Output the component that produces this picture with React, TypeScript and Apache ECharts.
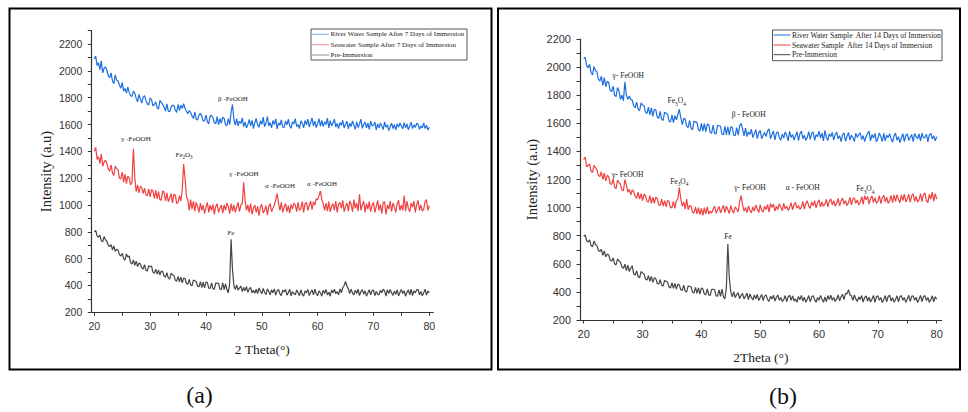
import React, { useEffect, useRef } from 'react';
import * as echarts from 'echarts';

// ---- sampling grid (2θ, degrees) ----
const ANGLE_START = 20;
const ANGLE_STEP = 0.25;

// ---- tick values ----
const X_LABELS = [20, 30, 40, 50, 60, 70, 80];
const X_TICKS = [20, 25, 30, 35, 40, 45, 50, 55, 60, 65, 70, 75, 80];
const Y_LABELS = [200, 400, 600, 800, 1000, 1200, 1400, 1600, 1800, 2000, 2200];
const Y_TICKS_A = [200, 300, 400, 500, 600, 700, 800, 900, 1000, 1100, 1200, 1300, 1400, 1500, 1600, 1700, 1800, 1900, 2000, 2100, 2200, 2300];
const Y_TICKS_B = [200, 300, 400, 500, 600, 700, 800, 900, 1000, 1100, 1200, 1300, 1400, 1500, 1600, 1700, 1800, 1900, 2000, 2100, 2200];

// ---- series names ----
const NAMES_A = ['River Water Sample After 7 Days of Immersion', 'Seawater Sample After 7 Days of Immersion', 'Pre-Immersion'];
const NAMES_B = ['River Water Sample  After 14 Days of Immersion', 'Seawater Sample  After 14 Days of Immersion', 'Pre-Immersion'];

// ---- (a) 7 days : one row = 4 degrees, 4 samples per degree ----
const RIVER_7 = [
  2090, 2110, 2040, 2060, 2010, 2075, 1985, 2020, 2030, 2005, 1965, 1950, 1985, 1925, 1905, 1970,
  1930, 1925, 1895, 1870, 1915, 1850, 1870, 1835, 1880, 1840, 1815, 1810, 1850, 1835, 1795, 1770,
  1825, 1790, 1760, 1805, 1815, 1780, 1755, 1745, 1800, 1785, 1740, 1750, 1770, 1725, 1715, 1780,
  1765, 1750, 1730, 1700, 1755, 1700, 1695, 1730, 1745, 1740, 1710, 1690, 1750, 1705, 1745, 1720,
  1755, 1720, 1700, 1680, 1705, 1690, 1665, 1645, 1695, 1640, 1635, 1670, 1685, 1665, 1625, 1630,
  1670, 1620, 1605, 1665, 1668, 1650, 1615, 1605, 1660, 1600, 1645, 1610, 1655, 1648, 1598, 1592,
  1645, 1600, 1690, 1750, 1640, 1595, 1645, 1590, 1625, 1608, 1650, 1585, 1620, 1575, 1600, 1638,
  1590, 1632, 1570, 1615, 1645, 1598, 1580, 1628, 1602, 1655, 1585, 1612, 1660, 1590, 1615, 1575,
  1630, 1600, 1642, 1568, 1612, 1595, 1635, 1580, 1578, 1625, 1598, 1640, 1590, 1572, 1620, 1605,
  1645, 1585, 1600, 1570, 1628, 1612, 1575, 1630, 1598, 1640, 1582, 1615, 1650, 1590, 1625, 1578,
  1605, 1645, 1588, 1632, 1585, 1620, 1600, 1648, 1575, 1630, 1590, 1612, 1640, 1582, 1608, 1570,
  1615, 1595, 1632, 1575, 1600, 1625, 1568, 1610, 1585, 1628, 1592, 1565, 1620, 1578, 1605, 1640,
  1572, 1600, 1618, 1575, 1610, 1565, 1625, 1590, 1595, 1618, 1560, 1605, 1575, 1612, 1590, 1562,
  1620, 1580, 1598, 1555, 1585, 1610, 1570, 1600, 1560, 1605, 1582, 1612, 1590, 1568, 1615, 1575,
  1605, 1560, 1592, 1618, 1570, 1598, 1578, 1610, 1600, 1565, 1590, 1575, 1612, 1570, 1595, 1560,
  1580,
];
const SEA_7 = [
  1400, 1430, 1340, 1360, 1310, 1380, 1290, 1320, 1335, 1310, 1270, 1250, 1300, 1240, 1220, 1290,
  1270, 1265, 1200, 1195, 1245, 1170, 1230, 1160, 1215, 1200, 1150, 1170, 1420, 1200, 1100, 1150,
  1090, 1140, 1130, 1085, 1125, 1075, 1070, 1120, 1060, 1115, 1105, 1050, 1110, 1045, 1100, 1040,
  1035, 1105, 1095, 1030, 1090, 1025, 1050, 1085, 1015, 1080, 1075, 1010, 1020, 1070, 1030, 1110,
  1305, 1200, 1060, 1040, 960, 1040, 970, 1030, 955, 1020, 990, 945, 1015, 960, 1000, 935,
  985, 1020, 945, 1000, 960, 1005, 930, 990, 1010, 945, 975, 1000, 940, 1002, 960, 1015,
  990, 935, 1010, 955, 1000, 945, 985, 1020, 950, 1000, 1010, 1170, 1040, 960, 1000, 945,
  1010, 930, 975, 1000, 945, 990, 920, 985, 1005, 940, 960, 995, 925, 990, 1010, 950,
  975, 1000, 1040, 1085, 1010, 960, 1020, 945, 985, 1010, 950, 995, 940, 1005, 970, 1015,
  1000, 950, 1020, 960, 975, 1025, 945, 1010, 1020, 960, 995, 1030, 965, 1025, 1000, 1045,
  1040, 1070, 1105, 1040, 1010, 960, 1015, 955, 1025, 950, 990, 1010, 960, 1030, 945, 1005,
  1020, 975, 1035, 950, 990, 1015, 955, 1030, 1005, 950, 1040, 975, 1015, 955, 1080, 960,
  1000, 1030, 945, 1010, 970, 1025, 950, 1000, 1020, 945, 990, 1035, 960, 1005, 935, 1020,
  1025, 930, 1000, 970, 1030, 950, 1015, 985, 945, 1010, 1035, 960, 1000, 960, 1070, 955,
  1030, 975, 950, 1015, 985, 1030, 945, 1005, 1035, 960, 1000, 955, 970, 1025, 1040, 960,
  995,
];
const PRE_7 = [
  800, 810, 770, 760, 775, 735, 725, 765, 740, 730, 700, 690, 705, 665, 695, 655,
  670, 662, 630, 620, 640, 600, 590, 635, 612, 620, 570, 560, 590, 550, 582, 540,
  568, 560, 530, 522, 555, 512, 508, 548, 540, 545, 500, 490, 522, 485, 515, 478,
  508, 502, 470, 462, 495, 455, 448, 490, 480, 475, 440, 432, 468, 428, 462, 420,
  455, 452, 415, 410, 445, 405, 398, 440, 435, 430, 395, 390, 428, 385, 425, 382,
  425, 422, 380, 378, 420, 375, 372, 418, 418, 415, 372, 370, 420, 370, 412, 368,
  345, 420, 745, 520, 400, 370, 405, 365, 380, 395, 355, 385, 360, 392, 348, 375,
  385, 345, 365, 342, 372, 340, 382, 355, 338, 378, 350, 332, 375, 355, 330, 368,
  345, 375, 328, 360, 370, 338, 325, 365, 352, 370, 328, 345, 372, 322, 355, 340,
  330, 366, 345, 324, 368, 335, 320, 360, 345, 370, 325, 350, 366, 330, 372, 340,
  325, 360, 345, 320, 365, 340, 370, 330, 350, 320, 366, 345, 372, 338, 355, 330,
  375, 345, 385, 400, 430, 395, 375, 340, 372, 345, 330, 365, 340, 372, 325, 355,
  370, 335, 360, 320, 345, 368, 330, 362, 366, 325, 355, 335, 330, 365, 345, 372,
  360, 320, 368, 340, 370, 345, 326, 358, 335, 368, 322, 350, 370, 340, 360, 320,
  350, 368, 330, 372, 325, 360, 345, 368, 370, 330, 355, 322, 345, 372, 328, 360,
  345,
];

// ---- (b) 14 days ----
const RIVER_14 = [
  2060, 2070, 2010, 1995, 2020, 1960, 1945, 2005, 1975, 1965, 1915, 1900, 1935, 1870, 1925, 1860,
  1900, 1890, 1835, 1825, 1865, 1800, 1790, 1855, 1830, 1770, 1800, 1760, 1895, 1800, 1770, 1795,
  1770, 1765, 1725, 1710, 1750, 1700, 1690, 1745, 1730, 1725, 1680, 1670, 1715, 1660, 1710, 1650,
  1700, 1695, 1645, 1635, 1685, 1630, 1620, 1680, 1670, 1665, 1615, 1610, 1660, 1605, 1655, 1625,
  1660, 1700, 1640, 1590, 1635, 1630, 1580, 1570, 1620, 1565, 1555, 1615, 1610, 1605, 1555, 1545,
  1600, 1545, 1598, 1540, 1595, 1590, 1535, 1530, 1588, 1528, 1525, 1585, 1582, 1580, 1522, 1520,
  1578, 1518, 1575, 1515, 1575, 1572, 1515, 1512, 1570, 1515, 1580, 1600, 1560, 1510, 1565, 1505,
  1540, 1520, 1558, 1498, 1525, 1555, 1492, 1530, 1550, 1490, 1515, 1535, 1505, 1548, 1560, 1490,
  1520, 1545, 1482, 1530, 1540, 1500, 1478, 1525, 1495, 1538, 1515, 1475, 1542, 1500, 1520, 1480,
  1510, 1540, 1476, 1525, 1545, 1490, 1515, 1478, 1500, 1540, 1485, 1530, 1538, 1478, 1520, 1505,
  1545, 1495, 1530, 1475, 1550, 1500, 1478, 1525, 1505, 1536, 1480, 1520, 1538, 1490, 1512, 1470,
  1520, 1532, 1472, 1505, 1535, 1480, 1515, 1498, 1470, 1530, 1500, 1520, 1532, 1485, 1512, 1470,
  1505, 1528, 1545, 1475, 1520, 1495, 1528, 1468, 1490, 1532, 1505, 1470, 1528, 1475, 1515, 1498,
  1525, 1490, 1465, 1510, 1530, 1480, 1505, 1462, 1495, 1526, 1470, 1515, 1524, 1478, 1500, 1520,
  1470, 1528, 1505, 1490, 1525, 1475, 1530, 1495, 1500, 1522, 1468, 1515, 1528, 1490, 1512, 1475,
  1505,
];
const SEA_14 = [
  1340, 1360, 1290, 1300, 1310, 1260, 1250, 1300, 1285, 1270, 1230, 1220, 1255, 1200, 1245, 1190,
  1230, 1220, 1170, 1165, 1205, 1145, 1135, 1195, 1180, 1165, 1125, 1120, 1200, 1160, 1110, 1130,
  1090, 1125, 1115, 1080, 1065, 1110, 1060, 1100, 1050, 1095, 1085, 1045, 1040, 1085, 1030, 1075,
  1030, 1075, 1065, 1020, 1015, 1060, 1010, 1050, 1005, 1050, 1045, 1000, 1000, 1045, 995, 1050,
  1060, 1145, 1060, 1010, 1040, 990, 1060, 985, 1015, 1010, 965, 960, 1005, 955, 1000, 950,
  995, 945, 1000, 955, 1005, 955, 975, 960, 990, 1010, 960, 985, 1008, 962, 990, 1015,
  965, 1010, 985, 958, 1015, 975, 960, 1005, 990, 970, 1040, 1085, 1020, 975, 1000, 965,
  1012, 980, 962, 1005, 975, 1018, 990, 965, 1020, 980, 968, 1010, 985, 1022, 968, 1030,
  1000, 1025, 975, 1010, 985, 1028, 1000, 978, 1030, 992, 1010, 980, 1000, 1035, 985, 1020,
  1038, 995, 1015, 988, 1002, 1045, 990, 1030, 1048, 1010, 995, 1040, 1012, 1050, 998, 1035,
  1055, 1005, 1040, 1010, 1025, 1058, 1005, 1045, 1062, 1020, 1050, 1010, 1030, 1065, 1012, 1048,
  1068, 1025, 1050, 1015, 1035, 1072, 1020, 1060, 1070, 1030, 1055, 1018, 1040, 1078, 1022, 1085,
  1055, 1080, 1025, 1065, 1082, 1035, 1070, 1030, 1045, 1085, 1028, 1070, 1088, 1040, 1075, 1030,
  1050, 1086, 1035, 1090, 1045, 1092, 1060, 1035, 1090, 1050, 1095, 1040, 1060, 1095, 1038, 1085,
  1098, 1045, 1080, 1040, 1055, 1100, 1042, 1090, 1105, 1050, 1035, 1095, 1060, 1110, 1045, 1100,
  1060,
];
const PRE_14 = [
  795, 805, 765, 755, 770, 730, 722, 762, 738, 728, 695, 688, 702, 660, 692, 650,
  670, 662, 628, 618, 642, 600, 592, 635, 620, 612, 575, 568, 598, 552, 590, 545,
  570, 585, 528, 520, 550, 508, 500, 545, 535, 528, 492, 485, 515, 475, 510, 468,
  500, 495, 460, 455, 488, 448, 442, 482, 475, 470, 435, 428, 465, 425, 460, 420,
  455, 450, 415, 410, 448, 405, 400, 442, 440, 435, 398, 392, 432, 390, 428, 385,
  428, 422, 385, 380, 422, 378, 375, 418, 418, 415, 372, 370, 415, 368, 420, 365,
  350, 430, 740, 500, 398, 365, 402, 360, 380, 395, 352, 375, 390, 350, 368, 392,
  345, 385, 360, 342, 378, 350, 382, 338, 360, 382, 338, 370, 378, 345, 332, 368,
  350, 376, 335, 362, 378, 340, 360, 332, 345, 374, 330, 365, 376, 340, 372, 335,
  350, 326, 368, 345, 375, 335, 362, 326, 348, 374, 330, 365, 372, 345, 326, 360,
  340, 375, 350, 326, 365, 330, 374, 345, 376, 340, 360, 332, 350, 378, 336, 365,
  382, 345, 390, 385, 415, 380, 372, 340, 378, 350, 332, 365, 345, 374, 328, 360,
  372, 335, 362, 328, 350, 375, 325, 365, 372, 340, 360, 324, 345, 374, 330, 368,
  376, 335, 358, 326, 345, 372, 330, 365, 374, 340, 360, 325, 350, 376, 332, 368,
  372, 340, 362, 324, 348, 375, 330, 366, 374, 338, 360, 326, 345, 372, 330, 366,
  348,
];

// ---- peak annotations (2θ, intensity level of the label) ----
const ANNOT_RIVER_7 = [{ text: 'β -FeOOH', angle: 44.84, level: 1792 }];
const ANNOT_SEA_7 = [
  { text: 'γ -FeOOH', angle: 27.47, level: 1493 },
  { text: 'Fe{s|2}O{s|3}', angle: 36.07, level: 1374 },
  { text: 'γ -FeOOH', angle: 46.81, level: 1232 },
  { text: 'α -FeOOH', angle: 53.26, level: 1143 },
  { text: 'α -FeOOH', angle: 60.78, level: 1158 },
];
const ANNOT_PRE_7 = [{ text: 'Fe', angle: 44.48, level: 792 }];
const ANNOT_RIVER_14 = [
  { text: 'γ- FeOOH', angle: 27.58, level: 1942 },
  { text: 'Fe{s|3}O{s|4}', angle: 35.81, level: 1761 },
  { text: 'β - FeOOH', angle: 48.05, level: 1666 },
];
const ANNOT_SEA_14 = [
  { text: 'γ- FeOOH', angle: 27.48, level: 1239 },
  { text: 'Fe{s|3}O{s|4}', angle: 36.25, level: 1189 },
  { text: 'γ- FeOOH', angle: 48.27, level: 1142 },
  { text: 'α - FeOOH', angle: 57.22, level: 1142 },
  { text: 'Fe{s|3}O{s|4}', angle: 67.87, level: 1135 },
];
const ANNOT_PRE_14 = [{ text: 'Fe', angle: 44.53, level: 793 }];

const COLORS = ['#1d6fe0', '#ef4141', '#454545'];

const SERIF = 'Liberation Serif, Times New Roman, serif';
const SANS = 'Liberation Sans, Arial, sans-serif';

function pairs(values: number[]) {
  return values.map((v, i) => [ANGLE_START + i * ANGLE_STEP, v]);
}

function annotations(list: { text: string; angle: number; level: number }[], fontSize: number) {
  return {
    symbol: 'circle',
    symbolSize: 1,
    silent: true,
    itemStyle: { color: 'rgba(0,0,0,0)' },
    label: {
      show: true,
      position: 'inside',
      fontFamily: SERIF,
      fontSize,
      lineHeight: fontSize + 4,
      color: '#222',
      rich: {
        s: { fontFamily: SERIF, fontSize: fontSize * 0.72, lineHeight: fontSize * 0.72, verticalAlign: 'bottom', color: '#222' },
      },
    },
    data: list.map((a) => ({
      coord: [a.angle, a.level],
      value: a.level,
      label: { formatter: a.text },
    })),
  };
}

function xAxis(gridIndex: number, min: number, max: number, name: string, fontSize: number) {
  return {
    type: 'value',
    gridIndex,
    min,
    max,
    name,
    nameLocation: 'middle',
    nameGap: 30,
    nameTextStyle: { fontFamily: SERIF, fontSize: 13.5, color: '#222' },
    axisLine: { show: true, onZero: false, lineStyle: { color: '#333', width: 1.2 } },
    axisTick: { show: true, length: 3.5, customValues: X_TICKS, lineStyle: { color: '#333' } },
    splitLine: { show: false },
    axisLabel: { customValues: X_LABELS, formatter: (v: number) => String(v), fontFamily: SANS, fontSize, color: '#333', margin: 8 },
  };
}

function yAxis(gridIndex: number, max: number, ticks: number[], nameGap: number, fontSize: number) {
  return {
    type: 'value',
    gridIndex,
    min: 200,
    max,
    name: 'Intensity (a.u)',
    nameLocation: 'middle',
    nameGap,
    nameRotate: 90,
    nameTextStyle: { fontFamily: SERIF, fontSize: 14.5, color: '#222' },
    axisLine: { show: true, onZero: false, lineStyle: { color: '#333', width: 1.2 } },
    axisTick: { show: true, length: 3.5, customValues: ticks, lineStyle: { color: '#333' } },
    splitLine: { show: false },
    axisLabel: { customValues: Y_LABELS, formatter: (v: number) => String(v), fontFamily: SANS, fontSize, color: '#333', margin: 9 },
  };
}

function line(name: string, values: number[], color: string, axis: number, marks: any) {
  return {
    type: 'line',
    name,
    xAxisIndex: axis,
    yAxisIndex: axis,
    data: pairs(values),
    showSymbol: false,
    symbol: 'none',
    silent: true,
    lineStyle: { color, width: 1.2 },
    itemStyle: { color },
    markPoint: marks,
  };
}

function legendGroup(x: number, y: number, w: number, h: number, rows: number[], lineEnd: number, names: string[], fontSize: number, opacity: number) {
  const children: any[] = [
    { type: 'rect', shape: { x, y, width: w, height: h }, style: { fill: '#fff', stroke: '#555', lineWidth: 1 } },
  ];
  names.forEach((n, i) => {
    children.push({ type: 'line', shape: { x1: x + 1, y1: rows[i], x2: lineEnd, y2: rows[i] }, style: { stroke: COLORS[i], lineWidth: 1, opacity } });
    children.push({ type: 'text', x: lineEnd + 1.5, y: rows[i], style: { text: n, fontFamily: SERIF, fontSize, fill: '#222', verticalAlign: 'middle', align: 'left' } });
  });
  return { type: 'group', children };
}

export default function App() {
  const ref = useRef<HTMLDivElement>(null);
  useEffect(() => {
    if (!ref.current) return;
    const chart = echarts.init(ref.current, undefined, { renderer: 'svg' });
    chart.setOption({
      animation: false,
      backgroundColor: '#fff',
      grid: [
        { left: 91.3, top: 30.7, width: 342, height: 281.6 },
        { left: 580, top: 39, width: 361.7, height: 281 },
      ],
      xAxis: [
        xAxis(0, 19.46, 80.72, '2 Theta(°)', 10.5),
        xAxis(1, 19.37, 80.85, '2Theta (°)', 11),
      ],
      yAxis: [
        yAxis(0, 2300, Y_TICKS_A, 38, 10.5),
        yAxis(1, 2200, Y_TICKS_B, 41, 11),
      ],
      series: [
        line(NAMES_A[2], PRE_7, COLORS[2], 0, annotations(ANNOT_PRE_7, 7)),
        line(NAMES_A[1], SEA_7, COLORS[1], 0, annotations(ANNOT_SEA_7, 7)),
        line(NAMES_A[0], RIVER_7, COLORS[0], 0, annotations(ANNOT_RIVER_7, 7)),
        line(NAMES_B[2] + ' ', PRE_14, COLORS[2], 1, annotations(ANNOT_PRE_14, 7.5)),
        line(NAMES_B[1], SEA_14, COLORS[1], 1, annotations(ANNOT_SEA_14, 7.5)),
        line(NAMES_B[0], RIVER_14, COLORS[0], 1, annotations(ANNOT_RIVER_14, 7.5)),
      ],
      graphic: [
        { type: 'rect', shape: { x: 9.5, y: 8.5, width: 482, height: 361 }, style: { fill: 'none', stroke: '#000', lineWidth: 2 } },
        { type: 'rect', shape: { x: 498, y: 8.5, width: 462, height: 361 }, style: { fill: 'none', stroke: '#000', lineWidth: 2 } },
        legendGroup(311, 29, 156, 31, [34.3, 44.7, 55], 329, NAMES_A, 7, 0.6),
        legendGroup(772.5, 30, 169.5, 30.7, [35, 45, 54.7], 790.5, NAMES_B, 7.5, 1),
        { type: 'text', x: 199.5, y: 395, style: { text: '(a)', fontFamily: SERIF, fontSize: 24, fill: '#111', align: 'center', verticalAlign: 'middle' } },
        { type: 'text', x: 783, y: 396, style: { text: '(b)', fontFamily: SERIF, fontSize: 24, fill: '#111', align: 'center', verticalAlign: 'middle' } },
      ],
    });
    return () => chart.dispose();
  }, []);
  return <div ref={ref} style={{ position: 'fixed', left: 0, top: 0, width: 968, height: 412, background: '#fff' }} />;
}
